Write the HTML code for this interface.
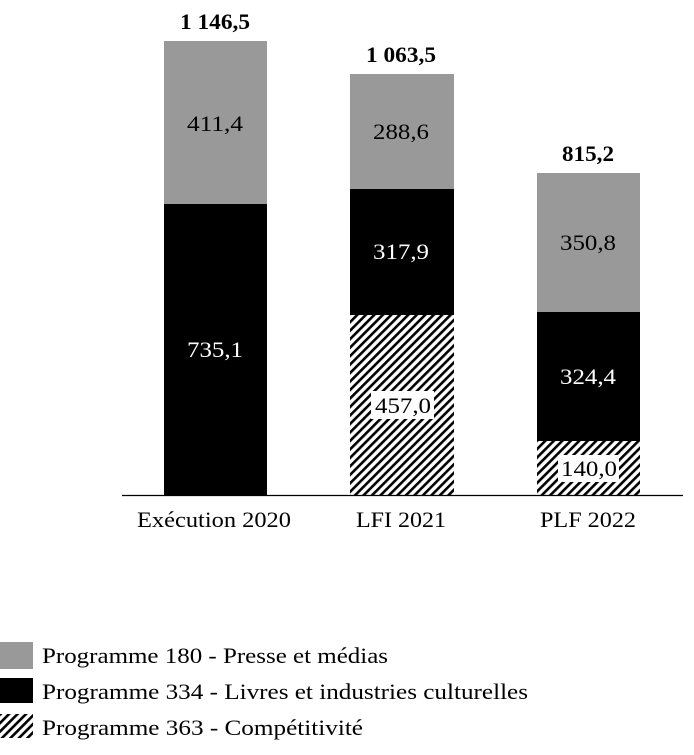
<!DOCTYPE html>
<html><head><meta charset="utf-8"><style>
html,body{margin:0;padding:0;background:#fff;}
svg{display:block;}
text{font-family:"Liberation Serif",serif;}
</style></head><body>
<svg width="694" height="755" viewBox="0 0 694 755" xmlns="http://www.w3.org/2000/svg">
<defs>
<pattern id="h" patternUnits="userSpaceOnUse" width="6" height="6" patternTransform="rotate(45)">
<rect width="6" height="6" fill="#fff"/>
<rect x="0" y="0" width="2.6" height="6" fill="#000"/>
</pattern>
</defs>
<rect x="164" y="41" width="103" height="163" fill="#999"/>
<rect x="164" y="204" width="103" height="291" fill="#000"/>
<rect x="350" y="74" width="104" height="115" fill="#999"/>
<rect x="350" y="189" width="104" height="126" fill="#000"/>
<rect x="350" y="315" width="104" height="180" fill="url(#h)"/>
<rect x="537" y="173" width="103" height="139" fill="#999"/>
<rect x="537" y="312" width="103" height="129" fill="#000"/>
<rect x="537" y="441" width="103" height="54" fill="url(#h)"/>
<line x1="122" y1="495.5" x2="683" y2="495.5" stroke="#000" stroke-width="1.2"/>
<g font-size="22" text-anchor="middle" font-weight="bold" lengthAdjust="spacingAndGlyphs">
<text x="215" y="29" textLength="70" lengthAdjust="spacingAndGlyphs">1 146,5</text>
<text x="401" y="62" textLength="70" lengthAdjust="spacingAndGlyphs">1 063,5</text>
<text x="588" y="161" textLength="52" lengthAdjust="spacingAndGlyphs">815,2</text>
</g>
<g font-size="22" text-anchor="middle">
<text x="215" y="131" fill="#000" textLength="56" lengthAdjust="spacingAndGlyphs">411,4</text>
<text x="215" y="357" fill="#fff" textLength="56" lengthAdjust="spacingAndGlyphs">735,1</text>
<text x="401" y="139" fill="#000" textLength="56" lengthAdjust="spacingAndGlyphs">288,6</text>
<text x="401" y="259" fill="#fff" textLength="56" lengthAdjust="spacingAndGlyphs">317,9</text>
<rect x="371" y="391" width="63" height="28" fill="#fff"/>
<text x="403" y="413" fill="#000" textLength="56" lengthAdjust="spacingAndGlyphs">457,0</text>
<text x="588" y="250" fill="#000" textLength="56" lengthAdjust="spacingAndGlyphs">350,8</text>
<text x="588" y="384" fill="#fff" textLength="56" lengthAdjust="spacingAndGlyphs">324,4</text>
<rect x="558" y="455" width="61" height="27" fill="#fff"/>
<text x="589" y="476" fill="#000" textLength="56" lengthAdjust="spacingAndGlyphs">140,0</text>
<text x="214" y="527" textLength="154" lengthAdjust="spacingAndGlyphs">Exécution 2020</text>
<text x="401" y="527" textLength="90" lengthAdjust="spacingAndGlyphs">LFI 2021</text>
<text x="588" y="527" textLength="96" lengthAdjust="spacingAndGlyphs">PLF 2022</text>
</g>
<rect x="0" y="642" width="33" height="27" fill="#999"/>
<rect x="0" y="678" width="33" height="25" fill="#000"/>
<rect x="0" y="714" width="33" height="24" fill="url(#h)"/>
<g font-size="22">
<text x="42" y="663" textLength="346" lengthAdjust="spacingAndGlyphs">Programme 180 - Presse et médias</text>
<text x="42" y="699" textLength="486" lengthAdjust="spacingAndGlyphs">Programme 334 - Livres et industries culturelles</text>
<text x="42" y="735" textLength="321" lengthAdjust="spacingAndGlyphs">Programme 363 - Compétitivité</text>
</g>
</svg>
</body></html>
